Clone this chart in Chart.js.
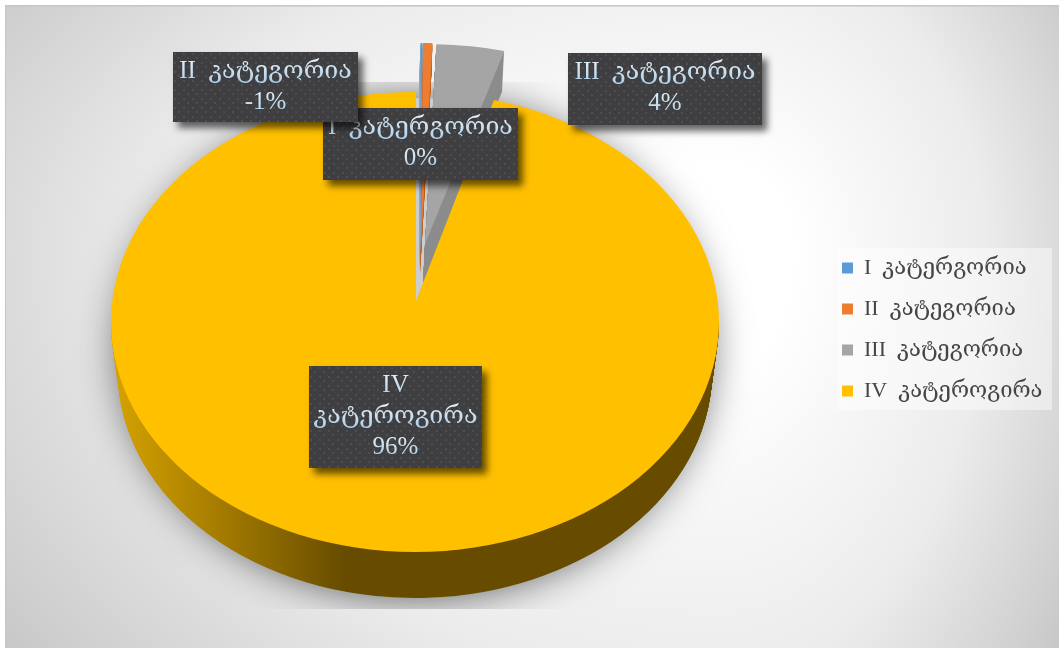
<!DOCTYPE html>
<html><head><meta charset="utf-8">
<script src="https://cdn.jsdelivr.net/npm/chart.js@4"></script>
<style>html,body{margin:0;padding:0;background:#fff}canvas{display:block}</style>
</head><body><canvas id="c" width="1059" height="648"></canvas>
<script>
const categories = ['I  კატერგორია','II  კატეგორია','III  კატეგორია','IV  კატეროგირა'];
const values = [0.1, -0.5, 3.6, 95.8];
const percentLabels = ['0%','-1%','4%','96%'];
const labelLines = [['I  კატერგორია'],['II  კატეგორია'],['III  კატეგორია'],['IV','კატეროგირა']];
const colors = ['#5B9BD5','#ED7D31','#A5A5A5','#FFC000'];
const wallColors = ['#8fa9c4','#c0651f','#8c8c8c','#6b4f00'];

// layout / style (not data)
const PIE = {cx:415, cy:322, rx:304, ry:230, apexX:416, apexY:301, hx:395, vy:0.696};
const WALL = {cy:372, rx:297, ry:226};
const WEDGE = [
  {x:420.5, y:244, ry:201, sh:[-1,30]},
  {x:421, y:244, ry:201, sh:[-1,30]},
  {x:425, y:244, ry:200, sh:[-2,40]}
];
const BOXES = [[323,108,195,72],[173,52,185,70],[568,53,194,72],[309,366,173,102]];
const FONT = '"Liberation Serif","DejaVu Serif",serif';
const LEGEND_BG = {x:838, y:248, w:214, h:162};
const LEGEND_ORIGIN = {x:823, y:238};
const BG = {cx:720, cy:250, left:720, right:340, up:400, down:550};

function placed(ctx, arc, cx, cy, sx, sy, fn){
  ctx.save();
  ctx.translate(cx, cy); ctx.scale(sx, sy); ctx.translate(-arc.x, -arc.y);
  fn(); ctx.restore();
}
function drawWith(arc, ctx, area, color){
  const saved = arc.options;
  arc.options = Object.assign({}, saved, {backgroundColor: color});
  arc.draw(ctx, area);
  arc.options = saved;
}

const scene = {
  id:'scene',
  afterLayout(chart){
    const l = chart.legend;
    const dx = LEGEND_ORIGIN.x - l.left, dy = LEGEND_ORIGIN.y - l.top;
    l.left += dx; l.right += dx + 40; l.top += dy; l.bottom += dy + 20;
  },
  beforeDraw(chart){
    const ctx = chart.ctx, W = chart.width, H = chart.height;
    ctx.save();
    ctx.fillStyle = '#fff'; ctx.fillRect(0,0,W,H);
    ctx.beginPath(); ctx.rect(5,5,W-5,H-5); ctx.clip();
    // asymmetric radial backdrop: one quadrant at a time
    const quads = [[-1,-1,BG.left,BG.up],[1,-1,BG.right,BG.up],[-1,1,BG.left,BG.down],[1,1,BG.right,BG.down]];
    quads.forEach(([qx,qy,X,Y])=>{
      ctx.save();
      ctx.translate(BG.cx,BG.cy);
      ctx.beginPath();
      ctx.rect(qx<0?-W:0,qy<0?-H:0,W,H); ctx.clip();
      ctx.scale(X,Y);
      const g = ctx.createRadialGradient(0,0,0,0,0,1.414);
      g.addColorStop(0,'#ffffff'); g.addColorStop(0.15,'#ffffff');
      g.addColorStop(0.55,'#ececec'); g.addColorStop(0.8,'#d0d0d0'); g.addColorStop(1,'#b8b8b8');
      ctx.fillStyle = g; ctx.fillRect(-5,-5,10,10);
      ctx.restore();
    });
    ctx.fillStyle = '#c6c6c6'; ctx.fillRect(5,5,W,1.5); ctx.fillRect(5,5,1,H);
    ctx.fillStyle = 'rgba(255,255,255,0.45)';
    ctx.fillRect(LEGEND_BG.x,LEGEND_BG.y,LEGEND_BG.w,LEGEND_BG.h);
    ctx.restore();
  },
  beforeDatasetsDraw(chart){
    const ctx = chart.ctx, area = chart.chartArea;
    const arcs = chart.getDatasetMeta(0).data;
    const R = arcs[3].outerRadius;

    // soft ground shadow, cut off as in the picture
    ctx.save();
    ctx.beginPath(); ctx.rect(5,82,1054,527); ctx.clip();
    ctx.shadowColor = 'rgba(0,0,0,0.62)'; ctx.shadowBlur = 40;
    ctx.fillStyle = '#cdcdcd';
    ctx.beginPath(); ctx.ellipse(PIE.cx,348,295,250,0,0,Math.PI*2); ctx.fill();
    ctx.restore();

    // raised thin wedges with their extruded walls
    [2,1,0].forEach(i=>{
      const w = WEDGE[i], arc = arcs[i];
      const sx = PIE.rx/R, sy = w.ry/R;
      for(let k=1;k>0;k-=0.04){
        placed(ctx,arc,w.x+w.sh[0]*k,w.y+w.sh[1]*k,sx,sy,()=>drawWith(arc,ctx,area,wallColors[i]));
      }
      placed(ctx,arc,w.x,w.y,sx,sy,()=>arc.draw(ctx,area));
    });

    // wall of the big slice
    const big = arcs[3];
    ctx.save();
    ctx.beginPath(); ctx.rect(0,PIE.cy,chart.width,chart.height); ctx.clip();
    for(let k=1;k>=0;k-=1/70){
      const cy = PIE.cy+(WALL.cy-PIE.cy)*k, rx = PIE.rx+(WALL.rx-PIE.rx)*k, ry = PIE.ry+(WALL.ry-PIE.ry)*k;
      const sx = rx/R, sy = ry/R;
      const toLocal = X => big.x+(X-PIE.cx)/sx;
      const g = ctx.createLinearGradient(toLocal(111),0,toLocal(345),0);
      g.addColorStop(0,'#d6a300'); g.addColorStop(0.45,'#a67d00'); g.addColorStop(1,'#674c00');
      placed(ctx,big,PIE.cx,cy,sx,sy,()=>drawWith(big,ctx,area,g));
    }
    ctx.restore();

    // top surface of the big slice: its apex sits above the ellipse centre
    ctx.save();
    ctx.beginPath(); ctx.ellipse(PIE.cx,PIE.cy,PIE.rx,PIE.ry,0,0,Math.PI*2); ctx.clip();
    const s = PIE.hx/R;
    placed(ctx,big,PIE.apexX,PIE.apexY,s,s*PIE.vy,()=>big.draw(ctx,area));
    ctx.restore();
    return false;
  },
  afterDraw(chart){
    const ctx = chart.ctx;
    const tile = document.createElement('canvas'); tile.width = tile.height = 9;
    const t = tile.getContext('2d');
    t.fillStyle = '#3f3f41'; t.fillRect(0,0,9,9);
    t.fillStyle = '#4e4e50'; t.fillRect(1,1,2,2); t.fillRect(5,5,2,2);
    const pat = ctx.createPattern(tile,'repeat');
    BOXES.forEach((b,i)=>{
      const [x,y,w,h] = b;
      ctx.save();
      ctx.shadowColor = 'rgba(0,0,0,0.6)'; ctx.shadowBlur = 7; ctx.shadowOffsetX = 5; ctx.shadowOffsetY = 6;
      ctx.fillStyle = '#3f3f41'; ctx.fillRect(x,y,w,h);
      ctx.restore();
      ctx.save();
      ctx.translate(x,y); ctx.fillStyle = pat; ctx.fillRect(0,0,w,h); ctx.translate(-x,-y);
      const lines = labelLines[i].concat(percentLabels[i]);
      ctx.font = '25px '+FONT; ctx.textAlign = 'center'; ctx.textBaseline = 'alphabetic';
      lines.forEach((ln,j)=>{
        const base = y+26+j*31;
        const grad = ctx.createLinearGradient(0,base-18,0,base+6);
        grad.addColorStop(0,'#e4eff8'); grad.addColorStop(1,'#a9cdea');
        ctx.fillStyle = grad;
        ctx.fillText(ln,x+w/2,base);
      });
      ctx.restore();
    });
  }
};

new Chart(document.getElementById('c'),{
  type:'pie',
  data:{labels:categories,datasets:[{data:values,backgroundColor:colors,borderWidth:0}]},
  plugins:[scene],
  options:{
    responsive:false, animation:false,
    layout:{padding:0},
    plugins:{
      tooltip:{enabled:false},
      legend:{
        position:'right',align:'start',
        labels:{boxWidth:11,boxHeight:11,padding:19,color:'#454545',font:{family:FONT,size:22}}
      }
    }
  }
});
</script></body></html>
